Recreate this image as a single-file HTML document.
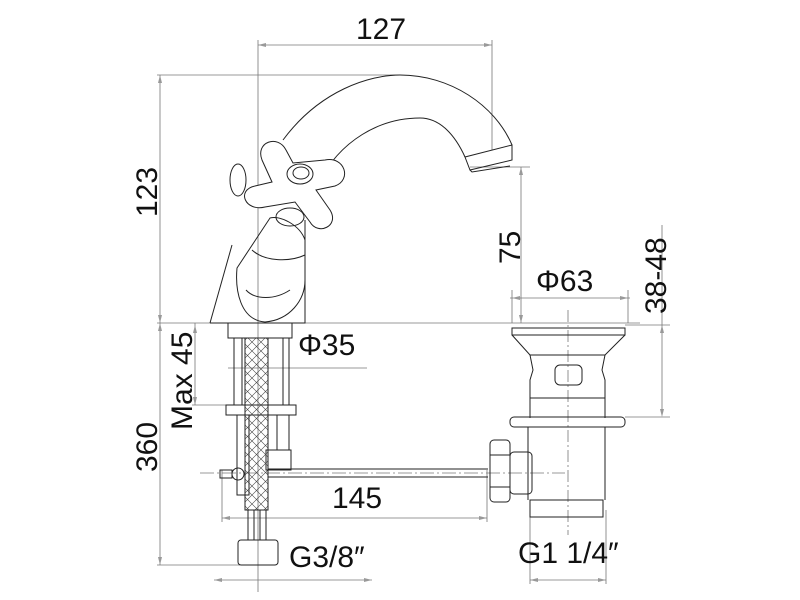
<!DOCTYPE html>
<html><head><meta charset="utf-8"><style>
html,body{margin:0;padding:0;background:#fff;}
svg{display:block;}
text{font-family:"Liberation Sans",sans-serif;fill:#111;}
</style></head><body>
<svg width="800" height="600" viewBox="0 0 800 600" xmlns="http://www.w3.org/2000/svg">
<defs>
<pattern id="mesh" width="9" height="9" patternUnits="userSpaceOnUse">
<path d="M0 0L9 9M9 0L0 9" stroke="#444" stroke-width="0.6"/>
</pattern>
</defs>
<g fill="none" stroke="#777" stroke-width="0.8">
<line x1="258" y1="40" x2="258" y2="592"/>
<line x1="492" y1="40" x2="492" y2="150"/>
<line x1="258" y1="45" x2="492" y2="45"/>
<line x1="157" y1="75" x2="400" y2="75"/>
<line x1="160" y1="75" x2="160" y2="565"/>
<line x1="157" y1="323" x2="640" y2="323"/>
<line x1="157" y1="565" x2="240" y2="565"/>
<line x1="195" y1="323" x2="195" y2="405"/>
<line x1="192" y1="405" x2="230" y2="405"/>
<line x1="470" y1="167" x2="530" y2="167"/>
<line x1="521" y1="167" x2="521" y2="323"/>
<line x1="510" y1="298" x2="630" y2="298"/>
<line x1="512" y1="290" x2="512" y2="323"/>
<line x1="628" y1="290" x2="628" y2="323"/>
<line x1="662" y1="225" x2="662" y2="415"/>
<line x1="625" y1="325" x2="670" y2="325"/>
<line x1="625" y1="417" x2="670" y2="417"/>
<line x1="228" y1="368" x2="367" y2="368"/>
<line x1="222" y1="518" x2="487" y2="518"/>
<line x1="222" y1="470" x2="222" y2="522"/>
<line x1="487" y1="470" x2="487" y2="522"/>
<line x1="214" y1="580" x2="372" y2="580"/>
<line x1="530" y1="580" x2="606" y2="580"/>
<line x1="530" y1="510" x2="530" y2="584"/>
<line x1="606" y1="510" x2="606" y2="584"/>
<line x1="568" y1="310" x2="568" y2="535" stroke-dasharray="12,3,2,3"/>
<line x1="200" y1="473" x2="565" y2="473" stroke-dasharray="14,3,2,3"/>
</g>
<g fill="#999">
<path d="M258 45l8 -2v4z M492 45l-8 -2v4z"/>
<path d="M160 75l-2 8h4z M160 323l-2 -8h4z M160 323l-2 8h4z M160 565l-2 -8h4z"/>
<path d="M195 325l-2 8h4z M195 405l-2 -8h4z"/>
<path d="M521 167l-2 8h4z M521 323l-2 -8h4z"/>
<path d="M512 298l8 -2v4z M628 298l-8 -2v4z"/>
<path d="M662 325l-2 8h4z M662 417l-2 -8h4z"/>
<path d="M222 518l8 -2v4z M487 518l-8 -2v4z"/>
<path d="M214 580l8 -2v4z M372 580l-8 -2v4z M530 580l8 -2v4z M606 580l-8 -2v4z"/>
</g>
<g fill="none" stroke="#222" stroke-width="1">
<path d="M283 140 C320 90 370 75 400 75 C450 75 495 105 512 145"/>
<path d="M318 184 C340 140 380 118 420 118 C440 118 455 135 465 157"/>
<path d="M512 145 L512 160 L470 170 L465 157 Z"/>
<path d="M470 170 L472 172 L510 166"/>
<path d="M210 323 L232 245"/>
<path d="M305 220 L305 323 L210 323"/>
<path d="M237 268 C235 290 240 320 265 322 C290 320 305 300 305 280 L305 240 C300 225 280 215 270 218 Z"/>
<path d="M252 250 C265 262 290 262 305 255"/>
<path d="M246 290 C255 300 275 300 290 290"/>
<!-- cross handle -->
<ellipse cx="238" cy="180" rx="8" ry="16" fill="#fff"/>
<path d="M272 182 L262 160 C255 142 278 134 286 150 L293 163 L325 160 C345 156 352 180 335 186 L316 190 L330 210 C340 226 318 236 310 222 L295 202 L265 207 C245 212 236 190 255 186 Z" fill="#fff"/>
<ellipse cx="300" cy="174" rx="13" ry="10" fill="#fff"/>
<ellipse cx="301" cy="173" rx="8" ry="6"/>
<ellipse cx="290" cy="217" rx="14" ry="9"/>
<!-- lower tap -->
<rect x="228" y="323" width="64" height="15"/>
<line x1="234" y1="338" x2="234" y2="405"/>
<line x1="242" y1="338" x2="242" y2="405"/>
<line x1="283" y1="338" x2="283" y2="405"/>
<line x1="289" y1="338" x2="289" y2="405"/>
<rect x="226" y="405" width="70" height="10"/>
<rect x="237" y="415" width="12" height="80"/>
<rect x="277" y="415" width="12" height="35"/>
<rect x="266" y="450" width="25" height="20"/>
<rect x="245" y="338" width="23" height="172" fill="url(#mesh)"/>
<rect x="248" y="510" width="18" height="30"/>
<line x1="254" y1="510" x2="254" y2="540"/><line x1="260" y1="510" x2="260" y2="540"/>
<rect x="238" y="540" width="40" height="25" rx="3"/>
<circle cx="238" cy="474" r="6"/>
<rect x="220" y="470" width="12" height="8"/>
<line x1="268" y1="469" x2="488" y2="469"/>
<line x1="268" y1="477" x2="488" y2="477"/>
<!-- waste -->
<path d="M512 328 L625 328 L625 335 L512 335 Z"/>
<path d="M512 335 L530 355 L605 355 L625 335"/>
<path d="M530 355 L533 370 L530 380 L530 418 M605 355 L602 370 L605 380 L605 418"/>
<line x1="530" y1="398" x2="605" y2="398"/>
<rect x="555" y="365" width="27" height="20" rx="5"/>
<rect x="510" y="417" width="115" height="10" rx="4"/>
<path d="M528 427 L528 500 M605 427 L605 500"/>
<rect x="530" y="500" width="73" height="17"/>
<rect x="510" y="452" width="22" height="42" rx="4"/>
<rect x="490" y="440" width="20" height="62" rx="4"/>
<line x1="490" y1="455" x2="510" y2="455"/><line x1="490" y1="487" x2="510" y2="487"/>
</g>
<text x="356" y="39" font-size="30">127</text>
<text x="157" y="217" font-size="30" transform="rotate(-90 157 217)">123</text>
<text x="520" y="264" font-size="30" transform="rotate(-90 520 264)">75</text>
<text x="536" y="291" font-size="30">Φ63</text>
<text x="666" y="314" font-size="30" transform="rotate(-90 666 314)">38-48</text>
<text x="298" y="355" font-size="30">Φ35</text>
<text x="192" y="430" font-size="30" transform="rotate(-90 192 430)">Max 45</text>
<text x="157" y="472" font-size="30" transform="rotate(-90 157 472)">360</text>
<text x="332" y="508" font-size="30">145</text>
<text x="289" y="567" font-size="30">G3/8″</text>
<text x="518" y="563" font-size="30">G1 1/4″</text>
</svg>
</body></html>
